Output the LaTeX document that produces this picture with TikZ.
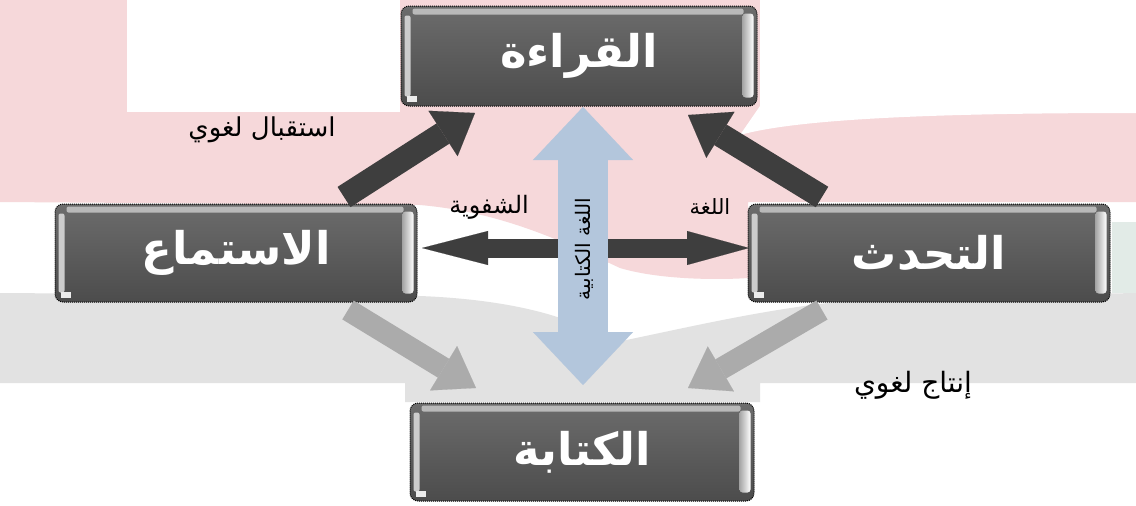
\documentclass[tikz,border=0pt]{standalone}
\usepackage{fontspec}
\newfontfamily\arabicfont[Script=Arabic]{DejaVu Sans}
\TeXXeTstate=1
\usetikzlibrary{arrows.meta,calc}
\definecolor{pinkbg}{HTML}{F6D8DA}
\definecolor{graybg}{HTML}{E2E2E2}
\definecolor{greenbg}{HTML}{E2EBE7}
\definecolor{boxdark}{HTML}{4C4C4C}
\definecolor{boxtop}{HTML}{6C6C6C}
\definecolor{darkarrow}{HTML}{3E3E3E}
\definecolor{lightarrow}{HTML}{ABABAB}
\definecolor{bluearrow}{HTML}{B3C6DC}
\begin{document}
\begin{tikzpicture}[x=1pt,y=-1pt,
  skillbox/.style={rounded corners=8pt, top color=boxtop, bottom color=boxdark,
    draw=black, densely dotted, line width=1pt, text=white, inner sep=0pt,
    font=\arabicfont\bfseries\fontsize{45}{50}\selectfont},
  lbl/.style={text=black},
  darkarr/.style={draw=darkarrow, line width=24pt,
    -{Triangle[length=38pt,width=54pt,line width=0.1pt]}},
  lightarr/.style={draw=lightarrow, line width=22pt,
    -{Triangle[length=38pt,width=52pt,line width=0.1pt]}},
  horarr/.style={draw=darkarrow, line width=19pt,
    {Triangle[length=66pt,width=34pt,line width=0.1pt]}-{Triangle[length=62pt,width=34pt,line width=0.1pt]}},
  vertarr/.style={draw=bluearrow, line width=50pt,
    {Triangle[length=53pt,width=100pt,line width=0.1pt]}-{Triangle[length=53pt,width=100pt,line width=0.1pt]}},
]
\useasboundingbox (0,0) rectangle (1136,506);
% background
\fill[white] (0,0) rectangle (1136,506);
\fill[pinkbg] (0,0) -- (1136,0) -- (1136,202) -- (748,202) -- (748,278)
  .. controls (720,280) and (660,280) .. (620,268)
  .. controls (560,240) and (500,212) .. (420,205) -- (0,202) -- cycle;
\fill[white] (127,0) rectangle (400,112);
\fill[white] (760,0) -- (1136,0) -- (1136,113)
  .. controls (950,113) and (800,118) .. (740,135) -- (760,106) -- cycle;
\fill[greenbg] (1112,222) rectangle (1136,293);
\fill[graybg] (0,293) -- (420,296) .. controls (520,300) and (580,320) .. (612,343)
  .. controls (700,325) and (780,305) .. (880,298) -- (1136,293) -- (1136,383)
  -- (760,383) -- (760,402) -- (405,402) -- (405,383) -- (0,383) -- cycle;

% boxes
\node[skillbox, minimum width=356pt, minimum height=100pt] (read) at (579,56) {\beginR القراءة\endR};
\node[skillbox, minimum width=362pt, minimum height=98pt] (listen) at (236,253) {\beginR الاستماع\endR};
\node[skillbox, minimum width=362pt, minimum height=98pt] (speak) at (929,253) {\beginR التحدث\endR};
\node[skillbox, minimum width=344pt, minimum height=98pt] (write) at (582,452) {\beginR الكتابة\endR};
\foreach \n in {read,listen,speak,write}{
  \fill[gray!55, rounded corners=2pt] ($(\n.north west)+(12,3)$) rectangle ($(\n.north east)+(-14,9)$);
  \shade[left color=gray!70, right color=white, rounded corners=3pt] ($(\n.north east)+(-15,8)$) rectangle ($(\n.south east)+(-4,-9)$);
  \fill[gray!40, rounded corners=2pt] ($(\n.north west)+(4,10)$) rectangle ($(\n.south west)+(10,-10)$);
  \fill[white!85!gray] ($(\n.south west)+(6,-11)$) rectangle ($(\n.south west)+(16,-5)$);
}

% connector end points
\coordinate (lrS) at (344,197);
\coordinate (lrE) at (475,113);
\coordinate (srS) at (822,197);
\coordinate (srE) at (688,115);
\coordinate (lwS) at (348,310);
\coordinate (lwE) at (476,388);
\coordinate (swS) at (822,310);
\coordinate (swE) at (688,388);
\coordinate (hL) at (422,248);
\coordinate (hR) at (749,248);
\coordinate (vT) at (583,107);
\coordinate (vB) at (583,385);

\draw[lightarr] (lwS) -- (lwE);
\draw[lightarr] (swS) -- (swE);
\draw[darkarr] (lrS) -- (lrE);
\draw[darkarr] (srS) -- (srE);
\draw[horarr] (hL) -- (hR);
\draw[vertarr] (vT) -- (vB);

% labels
\node[lbl, font=\arabicfont\fontsize{26}{30}\selectfont] (l1) at (262,130) {\beginR استقبال لغوي\endR};
\node[lbl, font=\arabicfont\fontsize{24}{28}\selectfont] (l2) at (489,207) {\beginR الشفوية\endR};
\node[lbl, font=\arabicfont\fontsize{21}{25}\selectfont] (l3) at (710,207) {\beginR اللغة\endR};
\node[lbl, font=\arabicfont\fontsize{28}{32}\selectfont] (l4) at (913,385) {\beginR إنتاج لغوي\endR};
\node[lbl, rotate=90, font=\arabicfont\fontsize{20}{24}\selectfont] (l5) at (584,249) {\beginR اللغة الكتابية\endR};
\end{tikzpicture}
\end{document}
